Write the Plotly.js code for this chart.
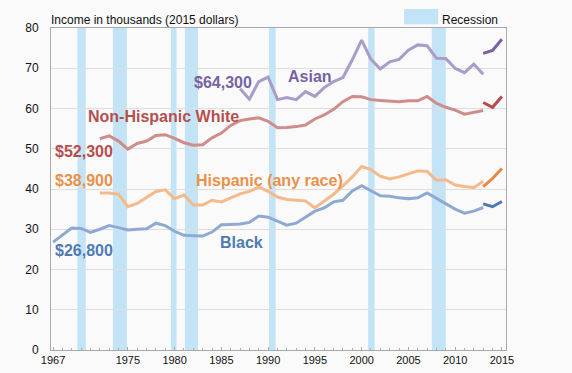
<!DOCTYPE html>
<html>
<head>
<meta charset="utf-8">
<script src="https://cdn.plot.ly/plotly-3.0.1.min.js"></script>
<style>
html,body{margin:0;padding:0;background:#fafafa;}
#chart{width:572px;height:373px;}
</style>
</head>
<body>
<div id="chart"></div>
<script>
// ---- data (thousands of 2015 dollars) ----
const years = [1967,1968,1969,1970,1971,1972,1973,1974,1975,1976,1977,1978,1979,1980,1981,1982,1983,1984,1985,1986,1987,1988,1989,1990,1991,1992,1993,1994,1995,1996,1997,1998,1999,2000,2001,2002,2003,2004,2005,2006,2007,2008,2009,2010,2011,2012,2013];
const blackOld = [26.8,28.5,30.3,30.2,29.2,30.0,30.9,30.4,29.8,30.0,30.1,31.5,30.9,29.5,28.5,28.4,28.3,29.3,31.1,31.2,31.3,31.7,33.3,33.0,32.0,31.0,31.5,33.0,34.5,35.3,36.8,37.2,39.5,40.8,39.5,38.3,38.2,37.8,37.6,37.8,39.0,37.6,36.2,35.0,34.0,34.5,35.4];
const whiteOld = [null,null,null,null,null,52.5,53.2,51.9,49.9,51.3,51.9,53.3,53.5,52.6,51.5,50.9,51.0,52.7,53.9,55.8,57.0,57.4,57.7,56.8,55.2,55.3,55.5,55.9,57.4,58.4,59.8,61.7,63.0,62.9,62.2,62.0,61.9,61.7,61.9,61.9,63.0,61.3,60.3,59.6,58.6,59.0,59.5];
const hispanicOld = [null,null,null,null,null,39.0,39.0,38.7,35.6,36.4,38.0,39.4,39.8,37.6,38.5,36.0,36.0,37.2,36.8,37.8,38.8,39.4,40.5,39.4,38.0,37.4,37.2,37.0,35.3,37.0,38.7,40.8,43.0,45.6,44.8,43.2,42.5,43.0,43.8,44.5,44.4,42.2,42.3,41.0,40.6,40.3,41.9];
const asianOld = [null,null,null,null,null,null,null,null,null,null,null,null,null,null,null,null,null,null,null,null,64.9,62.3,66.7,67.8,62.2,62.7,62.2,64.2,63.0,65.2,66.7,67.7,72.1,77.0,72.2,69.8,71.6,72.2,74.5,75.8,75.6,72.5,72.4,70.0,68.9,71.0,68.5];
const newYears = [2013,2014,2015];
const blackNew = [36.3,35.6,36.9];
const whiteNew = [61.5,60.3,63.0];
const hispanicNew = [40.6,42.6,45.1];
const asianNew = [73.7,74.4,77.2];
const recessionStart = [1969.6,1973.4,1979.6,1981.1,1990.1,2000.7,2007.5];
const recessionEnd   = [1970.5,1974.9,1980.2,1982.5,1990.8,2001.4,2009.0];
const xTickVals = [1967,1975,1980,1985,1990,1995,2000,2005,2010,2015];
const yTickVals = [0,10,20,30,40,50,60,70,80];

// ---- styles ----
const C = {
  asian:   {light:'#a99cc9', dark:'#7a5fa6', text:'#7663a3'},
  white:   {light:'#d08b8b', dark:'#b84c4c', text:'#b54f4f'},
  hisp:    {light:'#f4ba8b', dark:'#e8893c', text:'#e8914b'},
  black:   {light:'#8eaad3', dark:'#4c78b3', text:'#4f7bb4'}
};
const LW = 3;
function line(x, y, color){
  return {x:x, y:y, type:'scatter', mode:'lines', connectgaps:false,
          line:{color:color, width:LW}, hoverinfo:'skip', showlegend:false};
}
const traces = [
  line(years, blackOld, C.black.light),
  line(years, hispanicOld, C.hisp.light),
  line(years, whiteOld, C.white.light),
  line(years, asianOld, C.asian.light),
  line(newYears, blackNew, C.black.dark),
  line(newYears, hispanicNew, C.hisp.dark),
  line(newYears, whiteNew, C.white.dark),
  line(newYears, asianNew, C.asian.dark)
];

const recColor = '#c3e4f6';
const shapes = recessionStart.map((s,i)=>({
  type:'rect', xref:'x', yref:'paper', x0:s, x1:recessionEnd[i], y0:0, y1:1,
  fillcolor:recColor, line:{width:0}, layer:'below'
}));
// legend swatch
shapes.push({type:'rect', xref:'paper', yref:'paper', x0:0.776, x1:0.851, y0:1.012, y1:1.059,
  fillcolor:recColor, line:{width:0}});

const F = 'Liberation Sans, Arial, Helvetica, sans-serif';
function lab(text, x, y, color){
  return {text:'<b>'+text+'</b>', x:x, y:y, xref:'x', yref:'y', xanchor:'left', yanchor:'middle',
          showarrow:false, font:{family:F, size:16, color:color}};
}
const annotations = [
  lab('$52,300', 1967.0, 49.4, C.white.text),
  lab('$38,900', 1967.0, 42.1, C.hisp.text),
  lab('$26,800', 1967.0, 24.6, C.black.text),
  lab('Non-Hispanic White', 1970.55, 57.9, C.white.text),
  lab('$64,300', 1981.9, 66.5, C.asian.text),
  lab('Asian', 1991.95, 67.95, C.asian.text),
  lab('Hispanic (any race)', 1982.1, 42.2, C.hisp.text),
  lab('Black', 1984.65, 26.8, C.black.text),
  lab('$77,200', 2015.65, 76.8, C.asian.text),
  lab('$63,000', 2015.85, 62.8, C.white.text),
  lab('$45,100', 2015.65, 45.5, C.hisp.text),
  lab('$36,900', 2015.65, 37.1, C.black.text),
  {text:'Recession', xref:'paper', yref:'paper', x:0.856, y:1.025, xanchor:'left', yanchor:'middle',
   showarrow:false, font:{family:F, size:12, color:'#111'}}
];

const layout = {
  width:572, height:373,
  margin:{l:51, r:66, t:28, b:23, pad:0},
  paper_bgcolor:'#fafafa', plot_bgcolor:'#fafafa',
  title:{text:'Income in thousands (2015 dollars)', x:0, xref:'paper', xanchor:'left',
         y:1-20/373, yref:'container', yanchor:'middle', font:{family:F, size:12, color:'#111'}},
  xaxis:{range:[1966.78, 2015.44], tickmode:'array', tickvals:xTickVals, ticktext:xTickVals.map(String),
         showgrid:false, zeroline:false, showline:true, mirror:true, linecolor:'#a8a8a8', linewidth:1,
         ticks:'inside', ticklen:3, tickcolor:'#a8a8a8',
         minor:{tick0:1967, dtick:1, ticks:'inside', ticklen:2, tickcolor:'#b0b0b0', showgrid:false},
         tickfont:{family:F, size:11, color:'#111'}, fixedrange:true},
  yaxis:{range:[0,80], tickmode:'array', tickvals:yTickVals, showgrid:true, gridcolor:'#dedede', gridwidth:1,
         zeroline:false, showline:true, mirror:true, linecolor:'#a8a8a8', linewidth:1,
         ticks:'', ticklabelstandoff:9, tickfont:{family:F, size:12, color:'#111'}, fixedrange:true},
  shapes:shapes, annotations:annotations, showlegend:false
};
Plotly.newPlot('chart', traces, layout, {staticPlot:true, displayModeBar:false});
</script>
</body>
</html>
